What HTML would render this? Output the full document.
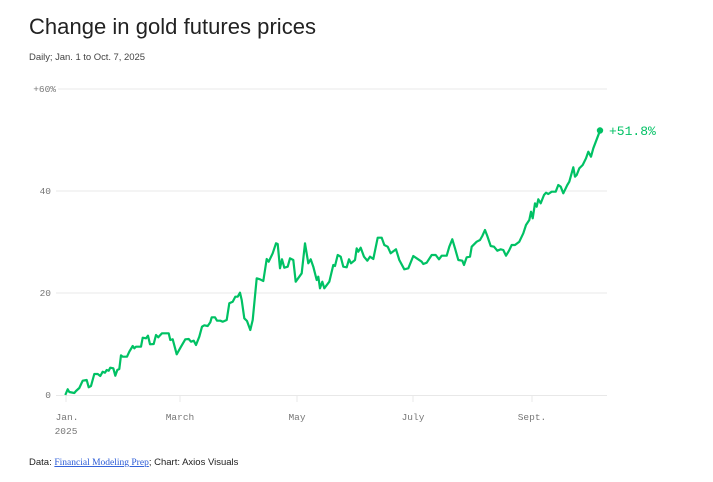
<!DOCTYPE html>
<html><head><meta charset="utf-8"><style>
body{margin:0;background:#fff;width:713px;height:477px;overflow:hidden;font-family:"Liberation Sans",sans-serif;}
</style></head><body>
<svg width="713" height="477" xmlns="http://www.w3.org/2000/svg">
<text x="29" y="34" font-size="22" fill="#222" font-family="Liberation Sans, sans-serif" textLength="287" lengthAdjust="spacing">Change in gold futures prices</text>
<text x="29" y="60" font-size="9.5" fill="#444" font-family="Liberation Sans, sans-serif" textLength="116" lengthAdjust="spacing">Daily; Jan. 1 to Oct. 7, 2025</text>
<g stroke="#e8e8e8" stroke-width="1">
<line x1="58" y1="89" x2="607" y2="89"/>
<line x1="56" y1="191" x2="607" y2="191"/>
<line x1="56" y1="293" x2="607" y2="293"/>
<line x1="56" y1="395.5" x2="607" y2="395.5"/>
<line x1="66" y1="396" x2="66" y2="402"/>
<line x1="180" y1="396" x2="180" y2="402"/>
<line x1="297" y1="396" x2="297" y2="402"/>
<line x1="413" y1="396" x2="413" y2="402"/>
<line x1="532" y1="396" x2="532" y2="402"/>
</g>
<g font-family="Liberation Mono, monospace" font-size="9.5" fill="#777">
<text x="56" y="92" text-anchor="end">+60%</text>
<text x="51" y="194" text-anchor="end">40</text>
<text x="51" y="296" text-anchor="end">20</text>
<text x="51" y="398" text-anchor="end">0</text>
<text x="67" y="420" text-anchor="middle">Jan.</text>
<text x="66" y="434" text-anchor="middle">2025</text>
<text x="180" y="420" text-anchor="middle">March</text>
<text x="297" y="420" text-anchor="middle">May</text>
<text x="413" y="420" text-anchor="middle">July</text>
<text x="532" y="420" text-anchor="middle">Sept.</text>
</g>
<polyline fill="none" stroke="#00c164" stroke-width="2.2" stroke-linejoin="round" points="65.3,395 67.7,389.3 69.3,392 74.3,393 76,391 79.3,388 82.7,380.7 86.7,380 88.7,387.3 91,386 94.3,374 97.7,374 100.3,376 102.7,371.7 105,372.7 106.7,370 108.7,370.7 110.3,367.7 113.3,368.3 115.3,375.7 117.3,370 119.3,369 121,355.3 122.7,356.7 127,356.7 129.3,351.7 132.7,346 134.3,348.3 136,346.7 141,346.7 142.7,337.7 146,338.3 148,335.7 150,344.3 153.7,344 156,335 158.3,337.3 162,333.3 168.7,333.3 170.3,340 172.7,339.3 176.7,354.3 181,346.7 185.3,339.3 188.7,339 191,341.7 193.7,340.7 196,345 199.3,336.7 202,326.7 204.3,325.3 207.7,326 210.3,322.3 211.7,317.3 215,317.3 217,320.7 220.3,320.7 222.7,321.7 226.7,320 229.3,303.3 232.7,301.7 235.3,296.7 237.7,296.7 240,292.7 241.7,300 244.3,318.3 247,321 250.3,330 252.7,320 256.7,278.3 260,279.3 263.3,281 266.7,259 268.7,261.7 272.7,253.3 276,243.3 277.7,244 280,268.3 282,259.3 284.3,267.7 287.7,266.7 290,258.3 293.3,260 295.7,281.7 301.7,273.3 305,243.3 308.3,263.3 310.7,259.3 313.3,266.7 316.7,280 318.3,276.7 320,288.3 322.3,281.7 324.3,288.3 329.3,281.7 333.3,265 335,266 337.7,255 340.7,256.7 343.3,266.7 346.7,267.3 349,259.3 351,263.3 355,260 356.7,248.3 358.3,251.7 360.7,247.7 364,256.7 367.3,260.7 370,256.7 373.3,259 377.7,237.7 381.7,237.7 384.3,245 387.7,246.7 390.7,253.3 396,249.3 399.3,260 404.3,269.3 408.3,268.3 413.3,256 416.7,258.3 421.7,261.7 423.3,264 426.7,262.7 431.7,255 435.7,255 439,259.3 441.7,255.7 446.7,255.7 449.3,246.7 452.3,239.3 455,248.3 458.3,260 462.3,260.7 464,265 466.7,257.3 470,256.7 471.7,246.7 476.7,241.7 480,240 482.3,236 485,230 487.3,236 490.7,246 494,246.7 497.3,250.7 500.7,249.3 503.3,250 506,255.7 509,250.7 511.7,245 515,245 519.3,241.7 523.3,233.3 526,225 529.3,220 531,211.7 532.7,218.3 535,203.3 536.7,206.7 538.3,199.3 540.7,203.3 544,195 546,192.7 548.3,194 551.7,191.7 555.7,191.7 558.3,185 560.7,186.7 563.3,193.3 567.3,185 569.3,181.7 573.3,167.3 575,176.7 576.7,175 579.3,168.3 582.7,165 586,158.3 588.3,151.7 591,156.7 593.3,148.3 600,130.7"/>
<circle cx="600" cy="130.5" r="3.2" fill="#00c164"/>
<text x="609" y="135" font-family="Liberation Mono, monospace" font-size="13" fill="#00c164">+51.8%</text>
<text x="29" y="465" font-size="9.5" fill="#222" font-family="Liberation Sans, sans-serif">Data: <tspan fill="#2a5bd7" text-decoration="underline" font-family="Liberation Serif, serif">Financial Modeling Prep</tspan>; Chart: Axios Visuals</text>
</svg>
</body></html>
